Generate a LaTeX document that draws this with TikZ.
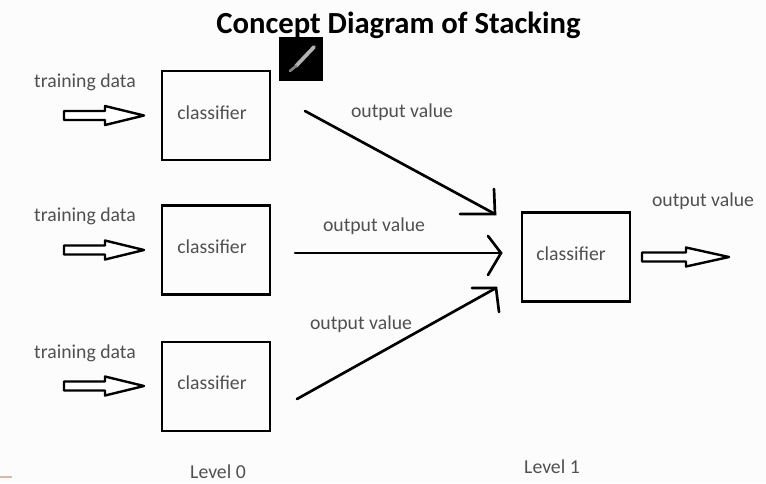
\documentclass[tikz,border=0pt]{standalone}
\usepackage{fontspec}
\setmainfont{Carlito}
\usetikzlibrary{calc}
\definecolor{labelgrey}{HTML}{505050}
\definecolor{paper}{HTML}{FCFCFC}
\definecolor{pinkdash}{HTML}{D8B8A8}
\tikzset{
  x=0.75pt,y=-0.75pt,
  boxnode/.style={draw=black,line width=1.9pt,minimum width=81pt,minimum height=67pt,inner sep=0pt},
  lab/.style={text=labelgrey,font=\fontsize{14.8}{18}\selectfont,inner sep=0pt,anchor=center},
  flow/.style={line width=2pt,line cap=round,line join=miter},
  hollow/.style={draw=black,line width=1.8pt,fill=white,line join=round},
}
% Block arrow from tail #1 to tip #2, with its head starting #3 along the tail
\newcommand{\blockarrow}[3]{%
  \draw[hollow] ($(#1)+(0,-4.5)$) -- ($(#1)+(#3,-4.5)$) -- ($(#1)+(#3,-9.5)$) -- (#2)
    -- ($(#1)+(#3,9.5)$) -- ($(#1)+(#3,4.5)$) -- ($(#1)+(0,4.5)$) -- cycle;}
\begin{document}
\begin{tikzpicture}
\useasboundingbox[fill=paper] (0,0) rectangle (766,483);

\node[font=\fontsize{23}{27}\selectfont\bfseries,text=black,inner sep=0pt] (title) at (398.5,25) {Concept Diagram of Stacking};

% pen tool badge
\node[fill=black,minimum width=33pt,minimum height=33pt,inner sep=0pt] (badge) at (301,58.5) {};
\draw[line width=2.8pt,draw=black!30!white,line cap=round] (296,66) -- (314,47);
\draw[line width=2pt,draw=black!50!white,line cap=round] (290,71) -- (296,66);

% level 0 classifiers
\node[boxnode] (c1) at (216,115.5) {};
\node[boxnode] (c2) at (216,250) {};
\node[boxnode] (c3) at (216,386.5) {};
% level 1 classifier
\node[boxnode] (c4) at (576,257) {};
\node[lab] (n1) at (212,113) {classifier};
\node[lab] (n2) at (212,247) {classifier};
\node[lab] (n3) at (212,383) {classifier};
\node[lab] (n4) at (571,254) {classifier};

% inputs
\node[lab] (t1) at (85,82) {training data};
\node[lab] (t2) at (85,216) {training data};
\node[lab] (t3) at (85,353) {training data};
\coordinate (a1) at (64,115.5); \coordinate (b1) at (144,115.5);
\coordinate (a2) at (64,250); \coordinate (b2) at (144,250);
\coordinate (a3) at (64,386); \coordinate (b3) at (144,386);
\coordinate (a4) at (642,257); \coordinate (b4) at (729,257);
\blockarrow{a1}{b1}{41}
\blockarrow{a2}{b2}{41}
\blockarrow{a3}{b3}{41}
\blockarrow{a4}{b4}{44}

% outputs into the level 1 classifier, each with a hand-drawn head
\coordinate (s1) at (305,111); \coordinate (e1) at (495,214);
\coordinate (u1) at (494,189); \coordinate (v1) at (460,214);
\coordinate (s2) at (295,253); \coordinate (e2) at (501,253);
\coordinate (u2) at (488,236); \coordinate (v2) at (488,275);
\coordinate (s3) at (297,399); \coordinate (e3) at (496,288);
\coordinate (u3) at (472,288); \coordinate (v3) at (499,312);
\draw[flow] (s1) -- (e1);
\draw[flow] (u1) -- (e1) -- (v1);
\draw[flow] (s2) -- (e2);
\draw[flow] (u2) -- (e2) -- (v2);
\draw[flow] (s3) -- (e3);
\draw[flow] (u3) -- (e3) -- (v3);

\node[lab] (o1) at (402,112) {output value};
\node[lab] (o2) at (374,226) {output value};
\node[lab] (o3) at (361,324) {output value};
\node[lab] (o4) at (703,201) {output value};

\node[lab] (l0) at (218,472) {Level 0};
\node[lab] (l1) at (552,467) {Level 1};

% short mark at the lower left edge
\draw[pinkdash,line width=1.5pt] (0,477) -- (12,477);
\end{tikzpicture}
\end{document}
